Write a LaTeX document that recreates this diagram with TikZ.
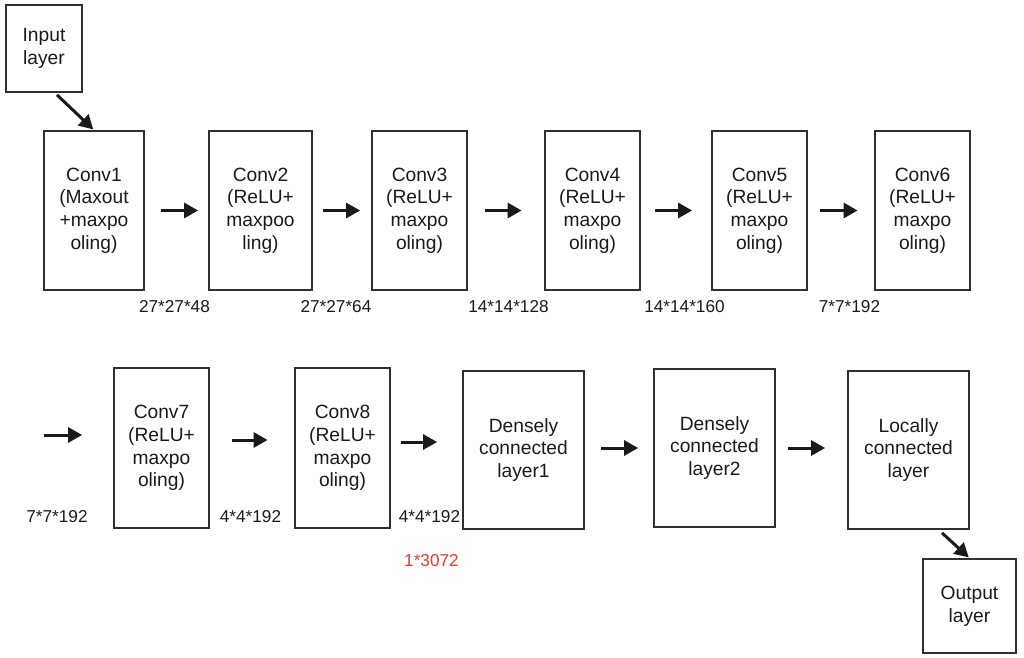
\documentclass[tikz,border=0pt]{standalone}
\usepackage{fontspec}
\setmainfont{Liberation Sans}
\usetikzlibrary{arrows.meta,calc}
\definecolor{figLine}{HTML}{303030}
\definecolor{figInk}{HTML}{1A1A1A}
\definecolor{figRed}{HTML}{E5392D}
\tikzset{
  layer/.style={draw=figLine,line width=0.9pt,inner sep=0pt,align=center,text=figInk,
    font=\fontsize{9.6}{11.4}\selectfont},
  convbox/.style={layer,minimum width=47.5pt,minimum height=79.5pt},
  densebox/.style={layer,minimum width=60.5pt,minimum height=79pt},
  iobox/.style={layer,minimum width=38pt,minimum height=43.5pt},
  flow/.style={figInk,line width=1.5pt,-{Triangle[length=7pt,width=7.5pt]}},
  dims/.style={text=figInk,inner sep=0pt,font=\fontsize{8.6}{10}\selectfont},
}

\begin{document}
\begin{tikzpicture}[x=0.5pt,y=-0.5pt]
    \useasboundingbox (0,0) rectangle (1024,658);
    % input
    \node[iobox] (Input) at (44,48.5) {Input\\layer};
    % first row of layers
    \node[convbox,minimum width=50pt] (Conv1) at (94,210.5) {Conv1\\(Maxout\\+maxpo\\oling)};
    \node[convbox,minimum width=51.5pt] (Conv2) at (260.5,210.5) {Conv2\\(ReLU+\\maxpoo\\ling)};
    \node[convbox] (Conv3) at (419.5,210.5) {Conv3\\(ReLU+\\maxpo\\oling)};
    \node[convbox] (Conv4) at (592.5,210.5) {Conv4\\(ReLU+\\maxpo\\oling)};
    \node[convbox] (Conv5) at (759.5,210.5) {Conv5\\(ReLU+\\maxpo\\oling)};
    \node[convbox] (Conv6) at (922.5,210.5) {Conv6\\(ReLU+\\maxpo\\oling)};
    % second row of layers
    \node[convbox,minimum height=80pt] (Conv7) at (161.5,448) {Conv7\\(ReLU+\\maxpo\\oling)};
    \node[convbox,minimum height=80pt] (Conv8) at (342.5,448) {Conv8\\(ReLU+\\maxpo\\oling)};
    \node[densebox] (Dense1) at (523.5,450) {Densely\\connected\\layer1};
    \node[densebox] (Dense2) at (714.5,448) {Densely\\connected\\layer2};
    \node[densebox] (Local) at (908.5,450) {Locally\\connected\\layer};
    % output
    \node[iobox,minimum width=46.5pt,minimum height=47pt] (Output) at (969.5,606) {Output\\layer};
    % arrows, first row
    \draw[flow,shorten >=0.5pt] ([xshift=6.5pt,yshift=-1pt]Input.south) -- (Conv1.north);
    \draw[flow,shorten <=8pt,shorten >=5pt] (Conv1) -- (Conv2);
    \draw[flow,shorten <=5pt,shorten >=5.5pt] (Conv2) -- (Conv3);
    \draw[flow,shorten <=8.5pt,shorten >=11.25pt] (Conv3) -- (Conv4);
    \draw[flow,shorten <=7.25pt,shorten >=9.5pt] (Conv4) -- (Conv5);
    \draw[flow,shorten <=6pt,shorten >=8.25pt] (Conv5) -- (Conv6);
    % arrows, second row (the first one comes in from the row above)
    \coordinate (in7) at (44,435);
    \draw[flow,shorten >=15.5pt] (in7) -- (in7 -| Conv7.west);
    \draw[flow,shorten <=11pt,shorten >=13.25pt] ([yshift=4pt]Conv7.east) -- ([yshift=4pt]Conv8.west);
    \draw[flow,shorten <=5.25pt,shorten >=12.5pt] ([yshift=3pt]Conv8.east) -- ([yshift=3pt]Conv8.east -| Dense1.west);
    \draw[flow,shorten <=8pt,shorten >=7.5pt] ([yshift=1pt]Dense1.east) -- (Dense2.west);
    \draw[flow,shorten <=6pt,shorten >=11pt] (Dense2.east) -- (Dense2.east -| Local.west);
    \draw[flow,shorten >=0.5pt] ([xshift=16.75pt,yshift=-1.5pt]Local.south) -- (Output.north);
    % feature map sizes
    \node[dims] (s1) at (174.5,307) {27*27*48};
    \node[dims] (s2) at (336,307) {27*27*64};
    \node[dims] (s3) at (508.5,307) {14*14*128};
    \node[dims] (s4) at (684.5,307) {14*14*160};
    \node[dims] (s5) at (849.5,307) {7*7*192};
    \node[dims] (s6) at (57,517) {7*7*192};
    \node[dims] (s7) at (250.5,517) {4*4*192};
    \node[dims] (s8) at (429.5,517) {4*4*192};
    \node[dims,text=figRed] (flat) at (431.5,561) {1*3072};
\end{tikzpicture}
\end{document}
